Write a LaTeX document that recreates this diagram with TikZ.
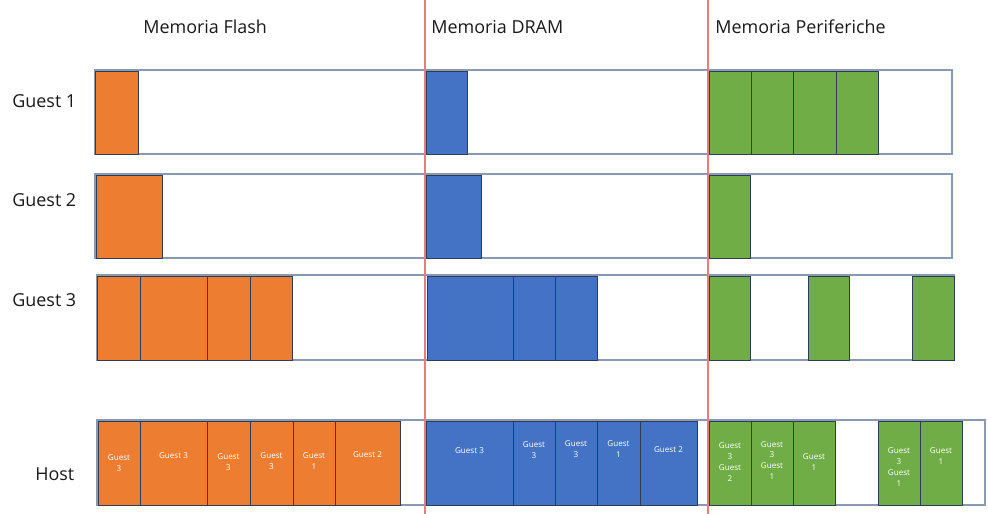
\documentclass[tikz,border=0pt]{standalone}
\usepackage{fontspec}
\setmainfont{Open Sans}
\definecolor{flash}{HTML}{ED7D31}
\definecolor{dram}{HTML}{4472C4}
\definecolor{peri}{HTML}{70AD47}
\definecolor{edge}{HTML}{2F3C58}
\definecolor{frame}{HTML}{8A99B2}
\definecolor{sep}{HTML}{EE7B7B}
\tikzset{
  blk/.style={draw=edge, line width=0.5pt},
  frame/.style={draw=frame, line width=0.8pt},
  lbl/.style={font=\fontsize{4.6}{6.2}\selectfont, text=white, align=center, inner sep=0pt},
  head/.style={font=\fontsize{10.2}{12}\selectfont, text=black!90, inner sep=0pt},
}
\begin{document}
\begin{tikzpicture}[x=0.02cm, y=-0.02cm]
  \useasboundingbox (0,0) rectangle (988,514);

  % 1. intestazioni e nomi delle righe
  \node[head, anchor=west] (hflash) at (143,27) {Memoria Flash};
  \node[head, anchor=west] (hdram) at (431,27) {Memoria DRAM};
  \node[head, anchor=west] (hperi) at (715,27) {Memoria Periferiche};
  \node[head, anchor=west] (g1) at (12,101) {Guest 1};
  \node[head, anchor=west] (g2) at (12,200) {Guest 2};
  \node[head, anchor=west] (g3) at (12,300) {Guest 3};
  \node[head, anchor=west] (host) at (35,474) {Host};

  % 2. cornici delle righe
  \draw[frame] (95,70) rectangle (952,154);
  \draw[frame] (95,174) rectangle (952,258);
  \draw[frame] (97,275) rectangle (954,360);
  \draw[frame] (97,420) rectangle (985,505);

  % 3. Guest 1
  \foreach \xa/\xb/\col in {95/138/flash, 426/467/dram,
      709/751/peri, 751/793/peri, 793/836/peri, 836/878/peri}
    \draw[blk, fill=\col] (\xa,71) rectangle (\xb,154);

  % 4. Guest 2
  \foreach \xa/\xb/\col in {96/162/flash, 426/481/dram, 709/750/peri}
    \draw[blk, fill=\col] (\xa,175) rectangle (\xb,258);

  % 5. Guest 3
  \foreach \xa/\xb/\col in {97/140/flash, 140/207/flash, 207/250/flash, 250/292/flash,
      427/513/dram, 513/555/dram, 555/597/dram,
      709/750/peri, 808/849/peri, 912/954/peri}
    \draw[blk, fill=\col] (\xa,276) rectangle (\xb,360);

  % 6. Host (blocchi con etichetta)
  \foreach \xa/\xb/\col/\ty/\txt [count=\i] in {
      98/140/flash/463/{Guest\\3}, 140/207/flash/456/{Guest 3},
      207/250/flash/462/{Guest\\3}, 250/293/flash/461.5/{Guest\\3},
      293/335/flash/461.5/{Guest\\1}, 335/400/flash/455/{Guest 2},
      426/513/dram/451/{Guest 3}, 513/555/dram/450.5/{Guest\\3},
      555/597/dram/449.5/{Guest\\3}, 597/640/dram/449.5/{Guest\\1},
      640/697/dram/450/{Guest 2},
      709/751/peri/462/{Guest\\3\\Guest\\2}, 751/793/peri/460.5/{Guest\\3\\Guest\\1},
      793/835/peri/462.5/{Guest\\1}, 878/920/peri/467/{Guest\\3\\Guest\\1},
      920/962/peri/456.5/{Guest\\1}} {
    \draw[blk, fill=\col] (\xa,421) rectangle (\xb,505);
    \node[lbl] (b\i) at ({(\xa+\xb)/2},\ty) {\txt};
  }

  % 7. separatori tra le memorie
  \draw[sep, line width=0.6pt] (425,0) -- (425,514);
  \draw[sep, line width=0.6pt] (708,0) -- (708,514);
\end{tikzpicture}
\end{document}
